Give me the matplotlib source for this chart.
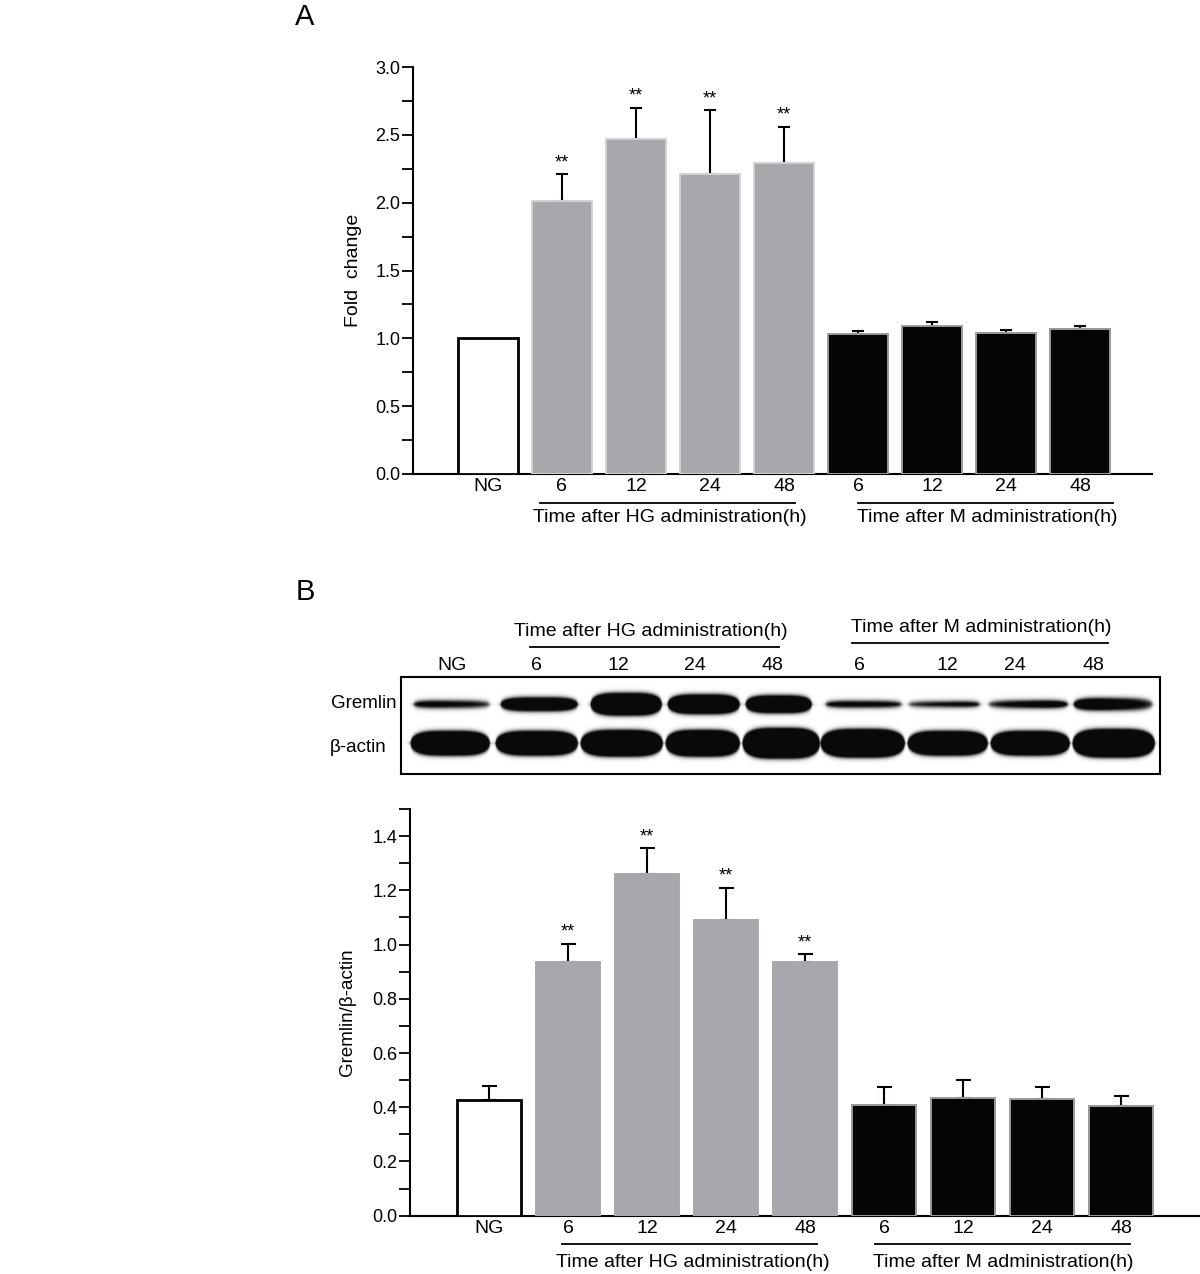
import numpy as np
import matplotlib
matplotlib.use("Agg")
import matplotlib.pyplot as plt
import matplotlib.transforms as mtransforms

plt.rcParams['font.family'] = ['Liberation Sans', 'DejaVu Sans']

# ---------------- data ----------------
lane_labels = ['NG', '6', '12', '24', '48', '6', '12', '24', '48']
lane_group = ['NG', 'HG', 'HG', 'HG', 'HG', 'M', 'M', 'M', 'M']

foldA = [1.00, 2.01, 2.47, 2.21, 2.29, 1.03, 1.09, 1.04, 1.07]
errA = [0.00, 0.20, 0.23, 0.47, 0.27, 0.025, 0.03, 0.025, 0.02]
sigA = ['', '**', '**', '**', '**', '', '', '', '']

ratioB = [0.425, 0.935, 1.26, 1.092, 0.935, 0.41, 0.434, 0.43, 0.406]
errB = [0.052, 0.068, 0.096, 0.118, 0.031, 0.063, 0.066, 0.043, 0.037]
sigB = ['', '**', '**', '**', '**', '', '', '', '']

group_titles = ['Time after HG administration(h)', 'Time after M administration(h)']

# western blot: band spans (image px), thickness, darkness at left / right end
gremlin_x0 = [413, 500, 590, 667, 745, 825, 908, 988, 1073]
gremlin_x1 = [490, 578, 662, 740, 812, 902, 980, 1068, 1153]
gremlin_h = [7, 13, 22, 19, 17, 6, 5, 7, 12]
gremlin_il = [0.85, 1.0, 1.0, 1.0, 1.0, 0.85, 0.6, 0.6, 1.0]
gremlin_ir = [0.6, 1.0, 1.0, 1.0, 1.0, 0.75, 0.9, 1.0, 0.55]
actin_x0 = [410, 495, 580, 665, 742, 820, 907, 990, 1072]
actin_x1 = [490, 578, 663, 740, 820, 905, 988, 1070, 1155]
actin_h = [24, 24, 26, 26, 30, 28, 24, 24, 28]
blot_lane_x = [452, 536, 618, 695, 772, 859, 947, 1015, 1093]

# ---------------- figure ----------------
W, H = 1200, 1274
fig = plt.figure(figsize=(W / 100, H / 100), dpi=100)


def fax(x0, y0, x1, y1):
    return [x0 / W, 1 - y1 / H, (x1 - x0) / W, (y1 - y0) / H]


fill_colors = {'NG': 'white', 'HG': '#a7a8ab', 'M': '#050505'}
edge_colors_A = {'NG': 'black', 'HG': '#d2d2d2', 'M': '#9a9a9a'}
edge_colors_B = {'NG': 'black', 'HG': '#a7a8ab', 'M': '#9a9a9a'}


def bar_panel(ax, vals, errs, sigs, edges, ylim, major, minor, capsize,
              line_y, text_y, hg_span, m_span, hg_tx, m_tx, xlim):
    x = np.arange(len(vals))
    fc = [fill_colors[g] for g in lane_group]
    ec = [edges[g] for g in lane_group]
    lw = [2.0 if g == 'NG' else 1.4 for g in lane_group]
    ax.bar(x, vals, width=0.81, color=fc, edgecolor=ec, linewidth=lw, zorder=3)
    for xi, v, e, s in zip(x, vals, errs, sigs):
        if e > 0:
            ax.errorbar([xi], [v], yerr=[[0], [e]], fmt='none', ecolor='black',
                        elinewidth=1.5, capsize=capsize, capthick=1.5, zorder=2)
        if s:
            ax.annotate(s, (xi, v + e), xytext=(0, 2), textcoords='offset points',
                        ha='center', va='bottom', fontsize=13)
    ax.set_xlim(*xlim)
    ax.set_ylim(*ylim)
    ax.set_xticks(x)
    ax.set_xticklabels(lane_labels, fontsize=14)
    ax.tick_params(axis='x', length=0, pad=3)
    ax.set_yticks(np.arange(0, ylim[1] + 1e-9, major))
    ax.set_yticks(np.arange(0, ylim[1] + 1e-9, minor), minor=True)
    ax.yaxis.set_major_formatter(matplotlib.ticker.FormatStrFormatter('%.1f'))
    ax.tick_params(axis='y', which='both', direction='out', length=8, width=1.3,
                   labelsize=13, pad=1)
    for s in ['top', 'right']:
        ax.spines[s].set_visible(False)
    for s in ['left', 'bottom']:
        ax.spines[s].set_linewidth(1.5)
    tr = mtransforms.blended_transform_factory(ax.transData, ax.transAxes)
    for span, tx, title in zip([hg_span, m_span], [hg_tx, m_tx], group_titles):
        ax.plot(span, [line_y, line_y], color='black', lw=1.3, transform=tr,
                clip_on=False)
        ax.text(tx, text_y, title, transform=tr, ha='center', va='center',
                fontsize=14)


# Panel A
axA = fig.add_axes(fax(413, 67, 1152, 474))
bar_panel(axA, foldA, errA, sigA, edge_colors_A, (0, 3.0), 0.5, 0.25, 4.3,
          -0.0713, -0.108, [0.70, 4.15], [5.0, 8.45], 2.46, 6.74, (-1.01, 8.97))
axA.set_ylabel('Fold  change', fontsize=14)
axA.yaxis.set_label_coords(-0.069, 0.5)
fig.text(305 / W, 1 - 17 / H, 'A', fontsize=21, ha='center', va='center')

# Panel B bars
axB = fig.add_axes(fax(410, 809, 1200, 1215.7))
bar_panel(axB, ratioB, errB, sigB, edge_colors_B, (0, 1.5), 0.2, 0.1, 5.4,
          -0.0696, -0.114, [0.92, 4.15], [4.89, 8.11], 2.58, 6.51, (-1.0, 9.0))
axB.set_ylabel('Gremlin/β-actin', fontsize=13.5)
axB.yaxis.set_label_coords(-0.068, 0.5)
fig.text(305 / W, 1 - 592 / H, 'B', fontsize=21, ha='center', va='center')

# Panel B blot
bx0, by0, bx1, by1 = 401, 677, 1160, 774
axW = fig.add_axes(fax(bx0, by0, bx1, by1))
xs = np.arange(bx0, bx1, 0.5)
ys = np.arange(by0, by1, 0.5)
XX, YY = np.meshgrid(xs, ys)
dark = np.zeros_like(XX)


def add_band(x0, x1, cy, h, il, ir, soft=2.6):
    global dark
    cx = (x0 + x1) / 2
    hw = (x1 - x0) / 2
    u = (XX - cx) / hw
    inside = np.clip(1 - np.abs(u) ** 4, 0, 1)
    half = (h / 2) * np.sqrt(inside)
    t = np.clip((XX - x0) / (x1 - x0), 0, 1)
    inten = il + (ir - il) * t
    edge = 0.5 * (1 - np.tanh((np.abs(YY - cy) - half) / soft))
    xedge = 0.5 * (1 - np.tanh((np.abs(u) - 1) * hw / soft))
    dark = np.maximum(dark, 1.6 * inten * edge * xedge)


for x0, x1, h, il, ir in zip(gremlin_x0, gremlin_x1, gremlin_h, gremlin_il, gremlin_ir):
    add_band(x0, x1, 704, h, il, ir)
for x0, x1, h in zip(actin_x0, actin_x1, actin_h):
    add_band(x0, x1, 743, h, 1.0, 1.0)

img = 1 - np.clip(dark, 0, 0.96)
axW.imshow(img, cmap='gray', vmin=0, vmax=1, extent=(bx0, bx1, by1, by0),
           aspect='auto', interpolation='bilinear')
axW.set_xlim(bx0, bx1)
axW.set_ylim(by1, by0)
axW.set_xticks([])
axW.set_yticks([])
for s in axW.spines.values():
    s.set_linewidth(1.5)

for lx, lab in zip(blot_lane_x, lane_labels):
    axW.text(lx, 665, lab, ha='center', va='center', fontsize=14, clip_on=False)
axW.text(397, 703, 'Gremlin', ha='right', va='center', fontsize=13.5, clip_on=False)
axW.text(330, 748, 'β-actin', ha='left', va='center', fontsize=13.5, clip_on=False)
for (lx0, lx1, ly), (tx, ty), title in zip([(530, 779, 647), (852, 1108, 643)],
                                          [(651, 631), (981, 628)], group_titles):
    axW.plot([lx0, lx1], [ly, ly], color='black', lw=1.3, clip_on=False)
    axW.text(tx, ty, title, ha='center', va='center', fontsize=14, clip_on=False)

fig.savefig('out.png', dpi=100)
